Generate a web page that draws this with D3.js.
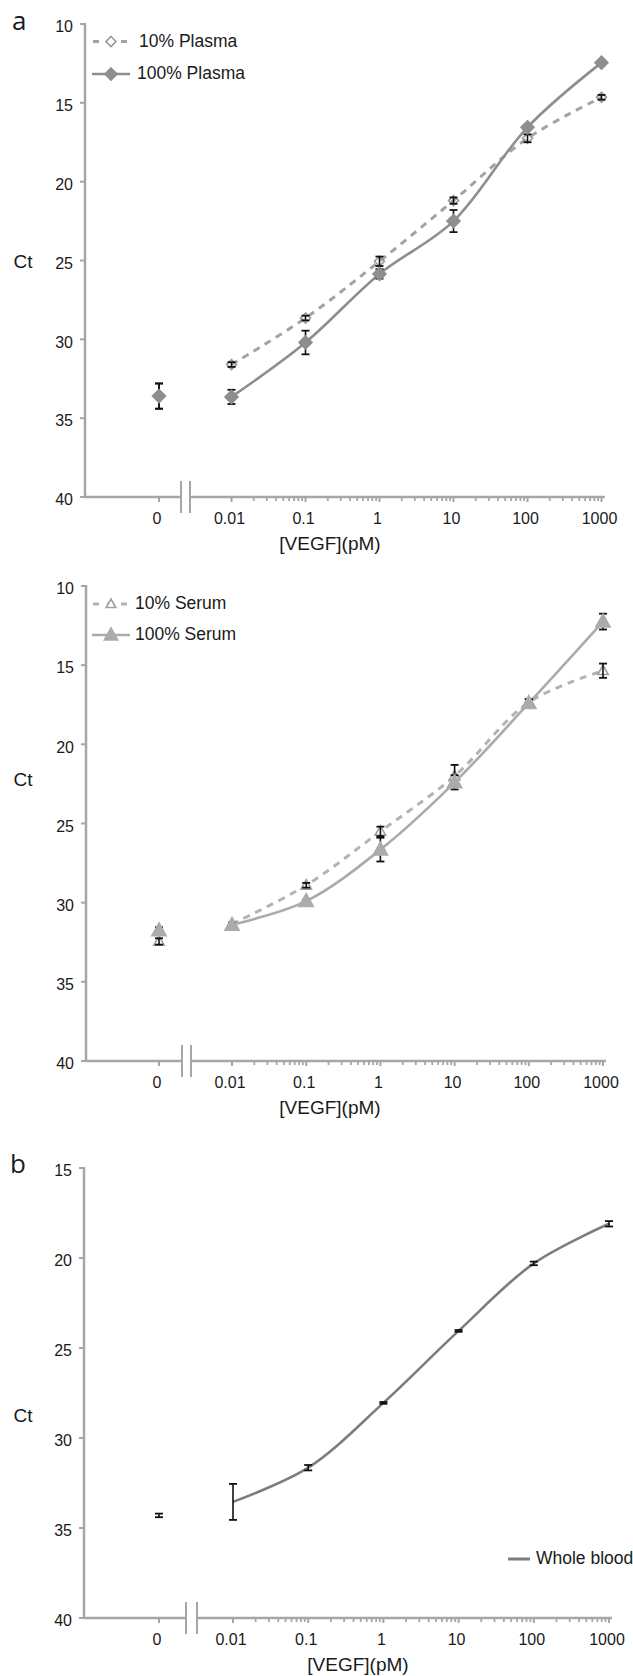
<!DOCTYPE html>
<html><head><meta charset="utf-8">
<script src="https://cdn.jsdelivr.net/npm/d3@7"></script>
<style>
body{margin:0;background:#fff}
text{font-family:"Liberation Sans",Arial,sans-serif;fill:#1a1a1a}
</style>
</head><body>
<svg id="c" width="633" height="1676"></svg>
<script>
// ---------- data ----------
const concLabels = ["0","0.01","0.1","1","10","100","1000"];
const concValues = [0, 0.01, 0.1, 1, 10, 100, 1000];
const yTicksA = [10,15,20,25,30,35,40];
const yTicksB = [15,20,25,30,35,40];

const plasma10     = [33.6, 31.6, 28.65, 25.05, 21.2, 17.25, 14.65];
const plasma10Err  = [0.8, 0.15, 0.15, 0.3, 0.2, 0.25, 0.15];
const plasma100    = [33.6, 33.65, 30.2, 25.85, 22.5, 16.55, 12.45];
const plasma100Err = [0.8, 0.45, 0.75, 0.3, 0.7, 0.15, 0.1];

const serum10      = [32.45, 31.35, 28.9, 25.5, 22.0, 17.35, 15.35];
const serum10Err   = [0.2, 0.1, 0.15, 0.3, 0.7, 0.2, 0.45];
const serum100     = [31.75, 31.4, 29.9, 26.65, 22.4, 17.4, 12.25];
const serum100Err  = [0.2, 0.1, 0.1, 0.75, 0.45, 0.25, 0.5];

const wholeBlood    = [34.3, 33.55, 31.65, 28.05, 24.05, 20.3, 18.1];
const wholeBloodErr = [0.1, 1.0, 0.15, 0.05, 0.05, 0.1, 0.15];

// ---------- drawing ----------
const svg = d3.select("#c");
const AX = "#a6a6a6";

function panel(cfg){
  const g = svg.append("g");
  const y = d3.scaleLinear().domain([cfg.yMin, 40]).range([cfg.yTop, cfg.yBot]);
  const xl = d3.scaleLog().domain([0.01,1000]).range([cfg.logL, cfg.logR]);
  const x = v => v === 0 ? cfg.x0 : xl(v);
  const axY = cfg.yBot;

  g.append("line").attr("x1",cfg.axX).attr("x2",cfg.axX).attr("y1",cfg.yTop-1).attr("y2",axY)
    .attr("stroke",AX).attr("stroke-width",2.5);
  cfg.yTicks.forEach(t=>{
    g.append("line").attr("x1",cfg.axX-5).attr("x2",cfg.axX).attr("y1",y(t)).attr("y2",y(t))
      .attr("stroke",AX).attr("stroke-width",2);
    g.append("text").attr("x",cfg.axX-12).attr("y",y(t)+4).attr("text-anchor","end")
      .attr("dominant-baseline","middle").attr("font-size",16).text(t);
  });
  g.append("line").attr("x1",cfg.axX).attr("x2",cfg.brk[0]).attr("y1",axY).attr("y2",axY)
    .attr("stroke",AX).attr("stroke-width",2.5);
  g.append("line").attr("x1",cfg.brk[1]).attr("x2",cfg.axR).attr("y1",axY).attr("y2",axY)
    .attr("stroke",AX).attr("stroke-width",2.5);
  cfg.brk.forEach(bx=>g.append("line").attr("x1",bx).attr("x2",bx).attr("y1",axY-16).attr("y2",axY+16)
    .attr("stroke",AX).attr("stroke-width",2));
  const minors = [];
  [0.01,0.1,1,10,100].forEach(d=>{for(let k=2;k<=9;k++) minors.push(d*k);});
  minors.forEach(v=>g.append("line").attr("x1",xl(v)).attr("x2",xl(v)).attr("y1",axY).attr("y2",axY+4)
    .attr("stroke",AX).attr("stroke-width",1.8));
  concValues.forEach((v,i)=>{
    g.append("line").attr("x1",x(v)).attr("x2",x(v)).attr("y1",axY).attr("y2",axY+5)
      .attr("stroke",AX).attr("stroke-width",2);
    g.append("text").attr("x",x(v)-2).attr("y",axY+23).attr("text-anchor","middle")
      .attr("dominant-baseline","middle").attr("font-size",16).text(concLabels[i]);
  });
  g.append("text").attr("x",cfg.titleX).attr("y",axY+48).attr("text-anchor","middle")
    .attr("dominant-baseline","middle").attr("font-size",19).text("[VEGF](pM)");
  g.append("text").attr("x",23).attr("y",cfg.ctY).attr("text-anchor","middle")
    .attr("dominant-baseline","middle").attr("font-size",19).text("Ct");
  if(cfg.letter){
    g.append("text").attr("x",cfg.letter[1]).attr("y",cfg.letter[2]).attr("font-size",26)
      .style("font-family","'Open Sans',sans-serif").text(cfg.letter[0]);
  }
  return {g,x,y};
}

const line = (P, vals, color, width, dash) => {
  const pts = concValues.map((v,i)=>[P.x(v), P.y(vals[i])]).slice(1);
  P.g.append("path").attr("d", d3.line().curve(d3.curveCatmullRom.alpha(0.5))(pts))
    .attr("fill","none").attr("stroke",color).attr("stroke-width",width)
    .attr("stroke-dasharray",dash||null);
};
const errs = (P, vals, errv) => {
  concValues.forEach((v,i)=>{
    const cx = P.x(v), y1 = P.y(vals[i]-errv[i]), y2 = P.y(vals[i]+errv[i]);
    P.g.append("line").attr("x1",cx).attr("x2",cx).attr("y1",y1).attr("y2",y2).attr("stroke","#111").attr("stroke-width",1.6);
    [y1,y2].forEach(yy=>P.g.append("line").attr("x1",cx-4).attr("x2",cx+4).attr("y1",yy).attr("y2",yy)
      .attr("stroke","#111").attr("stroke-width",1.8));
  });
};
const diamond = (g, cx, cy, r, fill, stroke) => g.append("path")
  .attr("d",`M${cx},${cy-r}L${cx+r},${cy}L${cx},${cy+r}L${cx-r},${cy}Z`)
  .attr("fill",fill).attr("stroke",stroke).attr("stroke-width",1.6);
const tri = (g, cx, cy, r, fill, stroke) => g.append("path")
  .attr("d",`M${cx},${cy-r}L${cx+r*0.95},${cy+r*0.7}L${cx-r*0.95},${cy+r*0.7}Z`)
  .attr("fill",fill).attr("stroke",stroke).attr("stroke-width",1.6);

const markers = (P, vals, fn, r, fill, stroke) =>
  concValues.forEach((v,i)=>fn(P.g, P.x(v), P.y(vals[i]), r, fill, stroke));

// ---- Panel a: plasma ----
const PA = panel({yMin:10,yTop:24,yBot:497,yTicks:yTicksA,axX:85,x0:159,logL:231.5,logR:601.5,axR:605,
  brk:[181,190],titleX:330,ctY:263,letter:["a",12,30]});
const cP = "#8e8e8e", cPd = "#a3a3a3";
line(PA, plasma10, cPd, 3, "7,6");
line(PA, plasma100, cP, 2.6);
markers(PA, plasma10, diamond, 5, "rgba(255,255,255,0)", "#999");
errs(PA, plasma10, plasma10Err);
errs(PA, plasma100, plasma100Err);
markers(PA, plasma100, diamond, 6.5, cP, cP);
PA.g.append("line").attr("x1",92).attr("x2",130).attr("y1",41.5).attr("y2",41.5)
  .attr("stroke",cPd).attr("stroke-width",3).attr("stroke-dasharray","6,8").attr("stroke-dashoffset",-1);
diamond(PA.g,111,41.5,5,"#fff","#999");
PA.g.append("text").attr("x",139).attr("y",42).attr("dominant-baseline","middle").attr("font-size",17.5).text("10% Plasma");
PA.g.append("line").attr("x1",92).attr("x2",130).attr("y1",74).attr("y2",74).attr("stroke",cP).attr("stroke-width",2.6);
diamond(PA.g,111,74,6,cP,cP);
PA.g.append("text").attr("x",137).attr("y",74.5).attr("dominant-baseline","middle").attr("font-size",17.5).text("100% Plasma");

// ---- Panel a (2): serum ----
const PS = panel({yMin:10,yTop:586,yBot:1061,yTicks:yTicksA,axX:86,x0:159,logL:232,logR:603,axR:606,
  brk:[182,191],titleX:330,ctY:781});
const cS = "#ababab", cSd = "#b3b3b3";
line(PS, serum10, cSd, 3, "7,6");
line(PS, serum100, cS, 2.6);
markers(PS, serum10, tri, 5.5, "#fff", "#a0a0a0");
errs(PS, serum10, serum10Err);
errs(PS, serum100, serum100Err);
markers(PS, serum100, tri, 7.5, cS, cS);
PS.g.append("line").attr("x1",92).attr("x2",130).attr("y1",604).attr("y2",604)
  .attr("stroke",cSd).attr("stroke-width",3).attr("stroke-dasharray","6,8").attr("stroke-dashoffset",-1);
tri(PS.g,111,604,5,"#fff","#a0a0a0");
PS.g.append("text").attr("x",135).attr("y",604.5).attr("dominant-baseline","middle").attr("font-size",17.5).text("10% Serum");
PS.g.append("line").attr("x1",92).attr("x2",130).attr("y1",635).attr("y2",635).attr("stroke",cS).attr("stroke-width",2.6);
tri(PS.g,111,635,7,cS,cS);
PS.g.append("text").attr("x",135).attr("y",635.5).attr("dominant-baseline","middle").attr("font-size",17.5).text("100% Serum");

// ---- Panel b: whole blood ----
const PB = panel({yMin:15,yTop:1168,yBot:1618,yTicks:yTicksB,axX:84,x0:159,logL:233,logR:609,axR:612,
  brk:[186,197],titleX:358,ctY:1417,letter:["b",10,1173]});
const cW = "#7d7d7d";
line(PB, wholeBlood, cW, 2.6);
errs(PB, wholeBlood, wholeBloodErr);
PB.g.append("line").attr("x1",508).attr("x2",530).attr("y1",1559).attr("y2",1559).attr("stroke",cW).attr("stroke-width",3);
PB.g.append("text").attr("x",536).attr("y",1559.5).attr("dominant-baseline","middle").attr("font-size",17.5).text("Whole blood");
</script>
</body></html>
